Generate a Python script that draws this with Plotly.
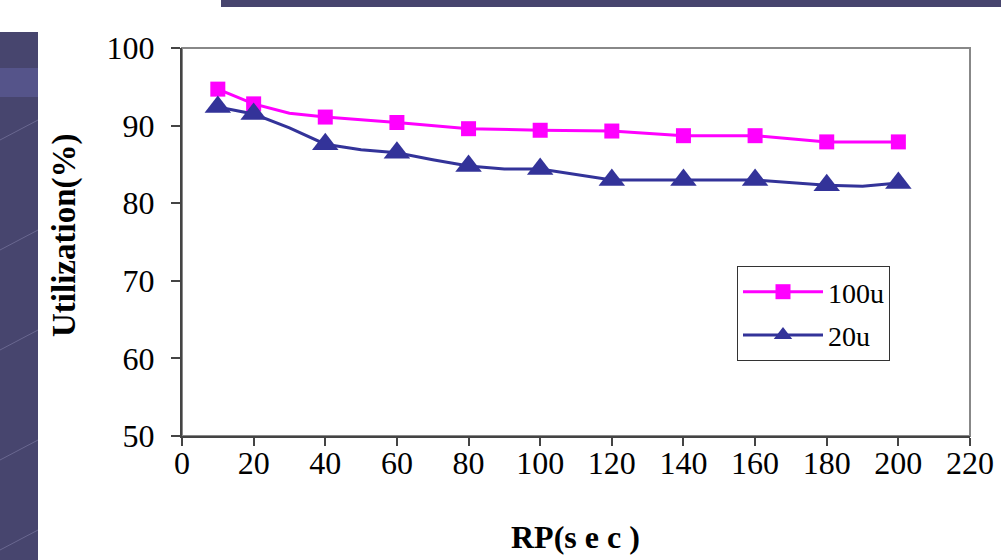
import plotly.graph_objects as go

# ---- data ----
x_100u = [10, 20, 30, 40, 60, 80, 100, 120, 140, 160, 180, 200]
y_100u = [94.7, 92.8, 91.6, 91.1, 90.4, 89.6, 89.4, 89.3, 88.7, 88.7, 87.9, 87.9]

x_20u = [10, 20, 30, 40, 50, 60, 70, 80, 90, 100, 120, 140, 160, 180, 190, 200]
y_20u = [92.4, 91.5, 89.7, 87.6, 86.9, 86.5, 85.6, 84.8, 84.4, 84.4, 83.0, 83.0, 83.0, 82.3, 82.2, 82.6]

marked_x = [10, 20, 40, 60, 80, 100, 120, 140, 160, 180, 200]

x_ticks = list(range(0, 221, 20))
y_ticks = list(range(50, 101, 10))

FONT = "Liberation Serif"
PINK = "#FF00FF"
NAVY = "#333399"


def colors(xs, c):
    return [c if v in marked_x else "rgba(0,0,0,0)" for v in xs]


fig = go.Figure()
fig.add_trace(go.Scatter(
    x=x_100u, y=y_100u, name="100u", mode="lines+markers",
    legendgroup="a",
    line=dict(color=PINK, width=3),
    marker=dict(symbol="square", size=15, color=colors(x_100u, PINK)),
))
fig.add_trace(go.Scatter(
    x=x_20u, y=y_20u, name="20u", mode="lines+markers",
    legendgroup="b",
    line=dict(color=NAVY, width=3),
    marker=dict(symbol="triangle-up", size=23, color=colors(x_20u, NAVY)),
))

# decorative slide background strips (pixel -> paper coordinates)
L, R, T, B = 182, 970, 48, 436
W, H = R - L, B - T


def px(xp):
    return (xp - L) / W


def py(yp):
    return (B - yp) / H


strip = "#47456e"
shapes = [
    dict(type="rect", xref="paper", yref="paper", x0=px(0), x1=px(38), y0=py(560), y1=py(32),
         fillcolor=strip, line=dict(width=0), layer="below"),
    dict(type="rect", xref="paper", yref="paper", x0=px(221), x1=px(1001), y0=py(7), y1=py(0),
         fillcolor=strip, line=dict(width=0), layer="below"),
    dict(type="rect", xref="paper", yref="paper", x0=px(0), x1=px(38), y0=py(97), y1=py(68),
         fillcolor="#55548a", line=dict(width=0), layer="below"),
    # plot-area border (top/right grey)
    dict(type="rect", xref="paper", yref="paper", x0=0, x1=1, y0=0, y1=1,
         line=dict(color="#888888", width=2), layer="below"),
]
for yy in [120, 230, 330, 440, 530]:
    shapes.append(dict(type="line", xref="paper", yref="paper", x0=px(0), x1=px(38),
                       y0=py(yy + 20), y1=py(yy), line=dict(color="#6a6890", width=1), layer="below"))

fig.update_layout(
    width=1001, height=560,
    margin=dict(l=L, r=1001 - R, t=T, b=560 - B, autoexpand=False),
    paper_bgcolor="white", plot_bgcolor="white",
    font=dict(family=FONT, color="black", size=32),
    showlegend=True,
    legend=dict(
        x=px(737), y=py(266), xanchor="left", yanchor="top",
        bgcolor="white", bordercolor="#333333", borderwidth=1,
        font=dict(family=FONT, size=28, color="black"),
        itemwidth=80, tracegroupgap=4,
    ),
    shapes=shapes,
    xaxis=dict(
        range=[0, 220], tickvals=x_ticks, ticktext=[str(v) for v in x_ticks],
        showgrid=False, zeroline=False, automargin=False,
        showline=True, linecolor="#444444", linewidth=2,
        ticks="outside", ticklen=8, tickwidth=1.5, tickcolor="#444444",
        ticklabelstandoff=-10,
        tickfont=dict(family=FONT, size=32, color="black"),
    ),
    yaxis=dict(
        range=[50, 100], tickvals=y_ticks, ticktext=[str(v) for v in y_ticks],
        showgrid=False, zeroline=False, automargin=False,
        showline=True, linecolor="#444444", linewidth=2,
        ticks="outside", ticklen=9, tickwidth=1.5, tickcolor="#444444",
        ticklabelstandoff=10,
        tickfont=dict(family=FONT, size=32, color="black"),
    ),
    annotations=[
        dict(text="<b>RP(s e c )</b>", xref="paper", yref="paper",
             x=px(575), y=py(537), xanchor="center", yanchor="middle", showarrow=False,
             font=dict(family=FONT, size=32, color="black")),
        dict(text="<b>Utilization(%)</b>", xref="paper", yref="paper",
             x=px(64), y=py(236), xanchor="center", yanchor="middle", showarrow=False,
             textangle=-90, font=dict(family=FONT, size=33, color="black")),
    ],
)

fig.write_html("out.html")
